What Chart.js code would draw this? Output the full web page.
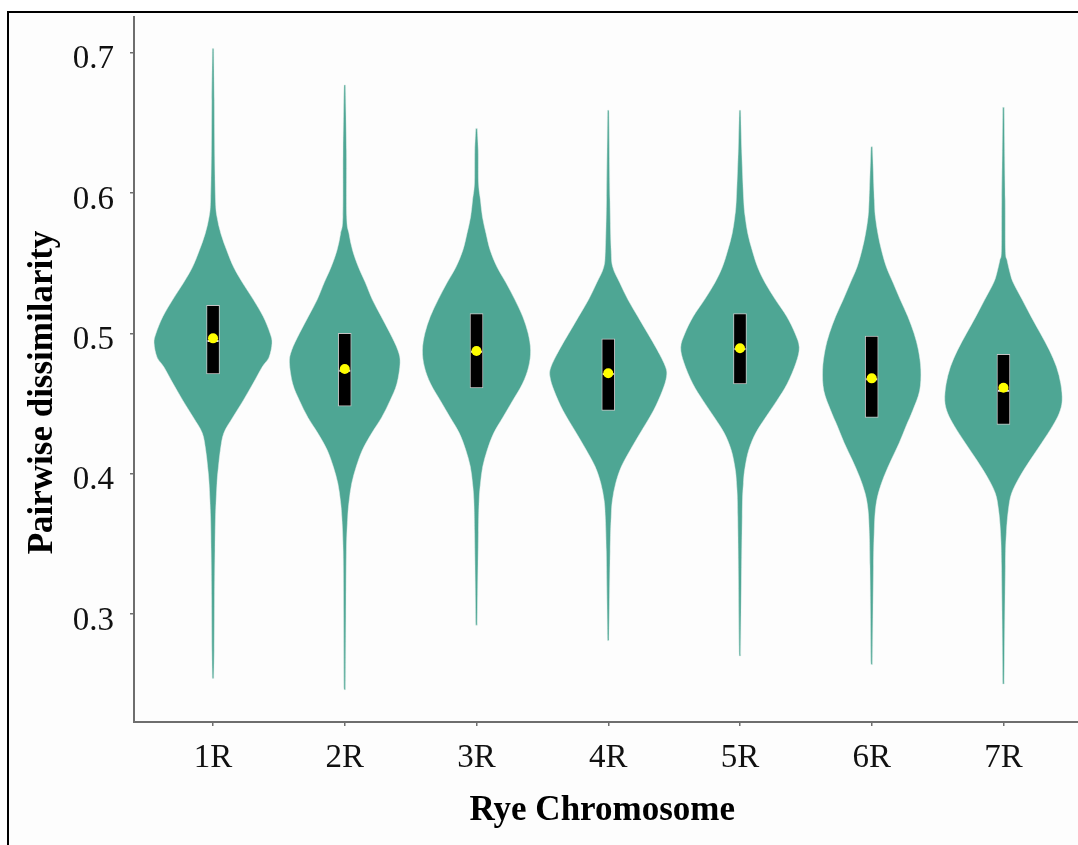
<!DOCTYPE html>
<html>
<head>
<meta charset="utf-8">
<title>Pairwise dissimilarity by rye chromosome</title>
<script src="https://cdn.jsdelivr.net/npm/chart.js@4.4.1/dist/chart.umd.min.js"></script>
<style>
  html, body { margin: 0; padding: 0; background: #fff; overflow: hidden; }
  #wrap { position: relative; width: 1078px; height: 845px; overflow: hidden; background: #fff; }
  #frame { position: absolute; left: 7px; top: 11px; width: 1200px; height: 1000px;
           border-top: 2px solid #000; border-left: 2px solid #000; background: #fdfdfd; }
  #c { position: absolute; left: 0; top: 0; }
</style>
</head>
<body>
<div id="wrap">
  <div id="frame"></div>
  <canvas id="c" width="1090" height="845"></canvas>
</div>
<script>
// ---- data ----
const chromosomes = ['1R', '2R', '3R', '4R', '5R', '6R', '7R'];
const yTicks = [0.3, 0.4, 0.5, 0.6, 0.7];
const xTitle = 'Rye Chromosome';
const yTitle = 'Pairwise dissimilarity';

// box statistics per chromosome
const q1     = [0.471, 0.448, 0.461, 0.445, 0.464, 0.440, 0.435];
const median = [0.4945, 0.4733, 0.4869, 0.4710, 0.4888, 0.4672, 0.4591];
const q3     = [0.520, 0.500, 0.514, 0.496, 0.514, 0.498, 0.485];
const mean   = [0.4964, 0.4746, 0.4874, 0.4715, 0.4893, 0.4679, 0.4612];

// kernel density profiles: [dissimilarity, density], from max down to min
const density1R = [[0.703,0.13],[0.666,0.22],[0.630,0.28],[0.595,0.42],[0.583,0.67],[0.571,1.33],[0.559,2.33],[0.547,3.5],[0.536,5.0],[0.524,6.83],[0.512,8.5],[0.500,9.67],[0.493,10.0],[0.483,9.5],[0.476,8.33],[0.464,6.75],[0.452,5.1],[0.440,3.33],[0.429,1.83],[0.417,1.25],[0.405,0.92],[0.393,0.67],[0.369,0.42],[0.345,0.33],[0.310,0.25],[0.274,0.2],[0.254,0.13]];
const density2R = [[0.677,0.13],[0.630,0.3],[0.583,0.33],[0.571,0.72],[0.559,1.33],[0.547,2.33],[0.536,3.5],[0.524,4.67],[0.512,6.17],[0.500,7.67],[0.488,9.0],[0.479,9.38],[0.464,8.83],[0.452,7.67],[0.440,6.25],[0.429,4.58],[0.417,3.0],[0.405,1.95],[0.393,1.17],[0.381,0.75],[0.369,0.5],[0.345,0.28],[0.298,0.2],[0.246,0.13]];
const density3R = [[0.646,0.13],[0.630,0.3],[0.607,0.35],[0.595,0.67],[0.583,1.0],[0.571,1.62],[0.559,2.33],[0.547,3.5],[0.536,5.0],[0.524,6.5],[0.512,7.83],[0.500,8.75],[0.488,9.17],[0.476,8.83],[0.464,7.78],[0.452,6.12],[0.440,4.45],[0.429,2.92],[0.417,1.83],[0.405,1.05],[0.393,0.67],[0.381,0.45],[0.358,0.33],[0.292,0.13]];
const density4R = [[0.659,0.13],[0.595,0.3],[0.559,0.5],[0.547,0.78],[0.536,1.95],[0.524,3.33],[0.512,5.0],[0.500,6.67],[0.488,8.33],[0.476,9.72],[0.469,9.88],[0.459,9.17],[0.445,7.67],[0.429,5.42],[0.417,3.75],[0.405,2.22],[0.393,1.25],[0.381,0.7],[0.369,0.5],[0.345,0.33],[0.281,0.13]];
const density5R = [[0.659,0.13],[0.630,0.3],[0.595,0.63],[0.583,0.88],[0.571,1.33],[0.559,2.08],[0.547,3.0],[0.536,4.25],[0.524,6.0],[0.512,7.92],[0.500,9.33],[0.490,10.05],[0.479,9.5],[0.464,8.0],[0.452,6.25],[0.440,4.33],[0.429,2.67],[0.417,1.5],[0.405,0.88],[0.393,0.58],[0.369,0.38],[0.270,0.13]];
const density6R = [[0.633,0.13],[0.595,0.45],[0.583,0.62],[0.571,1.05],[0.559,1.67],[0.547,2.5],[0.536,3.62],[0.524,4.83],[0.512,6.12],[0.500,7.17],[0.488,7.92],[0.474,8.33],[0.459,8.12],[0.445,6.95],[0.434,5.83],[0.422,4.67],[0.410,3.33],[0.398,2.08],[0.386,1.12],[0.374,0.62],[0.358,0.42],[0.334,0.3],[0.264,0.13]];
const density7R = [[0.661,0.13],[0.595,0.3],[0.559,0.35],[0.552,0.62],[0.543,1.12],[0.536,1.67],[0.524,3.17],[0.512,4.67],[0.500,6.25],[0.488,7.78],[0.476,9.0],[0.464,9.72],[0.452,9.95],[0.443,9.45],[0.434,8.33],[0.422,6.5],[0.410,4.58],[0.398,2.78],[0.386,1.38],[0.374,0.83],[0.358,0.5],[0.334,0.33],[0.250,0.13]];

const densities = [density1R, density2R, density3R, density4R, density5R, density6R, density7R];

// ---- styling ----
const VIOLIN_FILL = '#4ea694';
const VIOLIN_HALF_WIDTH = 0.45;        // widest violin spans 0.9 of a category
const AXIS_GREY = '#6e6e6e';
const SERIF = "'Liberation Serif', 'Times New Roman', serif";

// Catmull-Rom smoothing through the outline points
function smoothTo(ctx, pts) {
  for (let k = 0; k < pts.length - 1; k++) {
    const p0 = pts[k - 1] || pts[k], p1 = pts[k], p2 = pts[k + 1], p3 = pts[k + 2] || p2;
    ctx.bezierCurveTo(
      p1.x + (p2.x - p0.x) / 6, p1.y + (p2.y - p0.y) / 6,
      p2.x - (p3.x - p1.x) / 6, p2.y - (p3.y - p1.y) / 6,
      p2.x, p2.y);
  }
}

const violinPlugin = {
  id: 'violins',
  beforeDatasetsDraw(chart) {
    const { ctx, chartArea: a, scales: { x, y } } = chart;
    const maxD = Math.max(...densities.flat().map(p => p[1]));
    ctx.save();
    ctx.beginPath();
    ctx.rect(a.left, a.top, a.right - a.left, a.bottom - a.top);
    ctx.clip();
    densities.forEach((prof, i) => {
      const pos = i + 1;
      const right = prof.map(([v, d]) => ({
        x: x.getPixelForValue(pos + d / maxD * VIOLIN_HALF_WIDTH), y: y.getPixelForValue(v) }));
      const left = prof.map(([v, d]) => ({
        x: x.getPixelForValue(pos - d / maxD * VIOLIN_HALF_WIDTH), y: y.getPixelForValue(v) })).reverse();
      ctx.beginPath();
      ctx.moveTo(right[0].x, right[0].y);
      smoothTo(ctx, right);
      ctx.lineTo(left[0].x, left[0].y);
      smoothTo(ctx, left);
      ctx.closePath();
      ctx.fillStyle = VIOLIN_FILL;
      ctx.fill();
      ctx.lineWidth = 0.7;
      ctx.strokeStyle = 'rgba(225,238,234,0.7)';
      ctx.stroke();
    });
    ctx.restore();
  }
};

const axisTitlePlugin = {
  id: 'axisTitles',
  afterDraw(chart) {
    const { ctx, chartArea: a } = chart;
    ctx.save();
    ctx.fillStyle = '#000';
    ctx.font = "bold 35px " + SERIF;
    ctx.textAlign = 'center';
    ctx.textBaseline = 'alphabetic';
    ctx.fillText(xTitle, (a.left + a.right) / 2 - 6, a.bottom + 98);
    ctx.translate(52, (a.top + a.bottom) / 2 + 23);
    ctx.rotate(-Math.PI / 2);
    ctx.fillText(yTitle, 0, 0);
    ctx.restore();
  }
};

const tickFont = { family: SERIF, size: 33 };

// axis boxes have a fixed size and no extra room for edge labels
function noEdgePadding(s) {
  s.paddingTop = 0; s.paddingBottom = 0; s.paddingLeft = 0; s.paddingRight = 0;
}

new Chart(document.getElementById('c'), {
  type: 'bar',
  data: {
    datasets: [
      {
        type: 'scatter',
        label: 'Mean',
        data: chromosomes.map((c, i) => ({ x: i + 1, y: mean[i] })),
        pointRadius: 5,
        pointBackgroundColor: '#ffff00',
        pointBorderWidth: 0,
        order: 1
      },
      {
        type: 'scatter',
        label: 'Median',
        data: chromosomes.map((c, i) => ({ x: i + 1, y: median[i] })),
        pointStyle: 'line',
        pointRadius: 5.5,
        pointBorderColor: '#e4e4e4',
        pointBorderWidth: 2,
        order: 2
      },
      {
        type: 'bar',
        label: 'Interquartile range',
        data: chromosomes.map((c, i) => ({ x: i + 1, y: [q1[i], q3[i]] })),
        barThickness: 13,
        backgroundColor: '#000',
        borderColor: '#c4c4c4',
        borderWidth: 1,
        borderSkipped: false,
        order: 3
      }
    ]
  },
  options: {
    responsive: false,
    animation: false,
    devicePixelRatio: 1,
    layout: { padding: { left: 0, top: 17, right: 4.4, bottom: 0 } },
    plugins: { legend: { display: false }, tooltip: { enabled: false } },
    events: [],
    scales: {
      x: {
        type: 'linear',
        offset: false,
        min: 0.4,
        max: 7.6,
        afterBuildTicks: s => { s.ticks = chromosomes.map((c, i) => ({ value: i + 1 })); },
        afterFit: s => { s.height = 123; noEdgePadding(s); },
        grid: { offset: false, drawOnChartArea: false, drawTicks: true, tickLength: 4, color: AXIS_GREY, lineWidth: 1.5 },
        border: { display: true, color: AXIS_GREY, width: 2 },
        ticks: {
          font: tickFont, color: '#111', padding: 13,
          autoSkip: false, maxRotation: 0, minRotation: 0,
          callback: (v, i) => chromosomes[i]
        }
      },
      y: {
        type: 'linear',
        min: 0.223,
        max: 0.7254,
        afterBuildTicks: s => { s.ticks = yTicks.map(v => ({ value: v })); },
        afterFit: s => { s.width = 134; noEdgePadding(s); },
        grid: { drawOnChartArea: false, drawTicks: true, tickLength: 4, color: AXIS_GREY, lineWidth: 1.5 },
        border: { display: true, color: AXIS_GREY, width: 2 },
        ticks: {
          font: tickFont, color: '#111', padding: 16, labelOffset: 7,
          callback: v => Number(v).toFixed(1)
        }
      }
    }
  },
  plugins: [violinPlugin, axisTitlePlugin]
});
</script>
</body>
</html>
